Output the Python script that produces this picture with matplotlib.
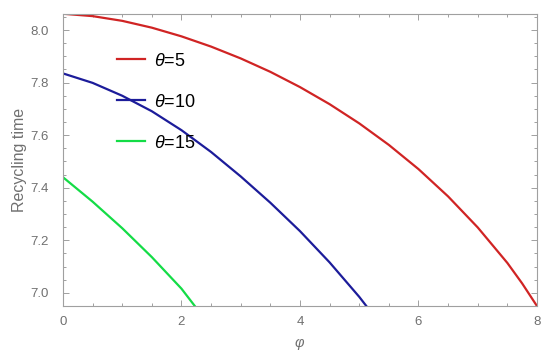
import matplotlib.pyplot as plt
from matplotlib.ticker import MultipleLocator

# --- values ---
phi_red = [0, 0.5, 1, 1.5, 2, 2.5, 3, 3.5, 4, 4.5, 5, 5.5, 6, 6.5, 7, 7.5,
           7.75, 8]
t_red = [8.062, 8.053, 8.035, 8.009, 7.976, 7.937, 7.892, 7.841, 7.783,
         7.718, 7.645, 7.563, 7.471, 7.367, 7.249, 7.114, 7.036, 6.95]

phi_blue = [0, 0.5, 1, 1.5, 2, 2.5, 3, 3.5, 4, 4.5, 5, 5.12]
t_blue = [7.835, 7.799, 7.750, 7.691, 7.619, 7.536, 7.443, 7.343, 7.235,
          7.116, 6.985, 6.95]

phi_green = [0, 0.5, 1, 1.5, 2, 2.225]
t_green = [7.44, 7.347, 7.246, 7.136, 7.016, 6.95]

labels = [r"$\theta$=5", r"$\theta$=10", r"$\theta$=15"]
colors = ["#d02424", "#1c1c9a", "#14dc46"]

plt.rcParams["font.family"] = "Liberation Sans"
plt.rcParams["mathtext.fontset"] = "custom"
plt.rcParams["mathtext.it"] = "Liberation Sans:italic"

fig = plt.figure(figsize=(5.5, 3.64), dpi=100)
ax = fig.add_axes([0.1145, 0.1593, 0.8618, 0.8022])

for xs, ys, lab, c in zip([phi_red, phi_blue, phi_green],
                          [t_red, t_blue, t_green], labels, colors):
    ax.plot(xs, ys, color=c, lw=1.6, label=lab, solid_joinstyle="round")

ax.set_xlim(0, 8)
ax.set_ylim(6.95, 8.061)

gray = "#a0a0a0"
txt = "#707070"
ax.xaxis.set_major_locator(MultipleLocator(2))
ax.xaxis.set_minor_locator(MultipleLocator(0.5))
ax.yaxis.set_major_locator(MultipleLocator(0.2))
ax.yaxis.set_minor_locator(MultipleLocator(0.05))
ax.yaxis.set_major_formatter(plt.FuncFormatter(lambda v, p: f"{v:.1f}"))
ax.tick_params(which="both", direction="in", top=True, right=True,
               color=gray, width=0.7, labelcolor=txt, labelsize=9.5)
ax.tick_params(which="major", length=4.5, pad=7)
ax.tick_params(axis="y", which="major", pad=10)
ax.tick_params(which="minor", length=2.5)
for s in ax.spines.values():
    s.set_color(gray)
    s.set_linewidth(0.8)

ax.set_xlabel(r"$\varphi$", color=txt, fontsize=10.5, labelpad=6)
ax.set_ylabel("Recycling time", color=txt, fontsize=11.5, labelpad=3)

ax.legend(loc="upper left", bbox_to_anchor=(0.115, 0.868), frameon=False,
          fontsize=13, handlelength=1.55, handletextpad=0.5,
          labelspacing=1.33, borderpad=0, borderaxespad=0)

fig.savefig("out.png", dpi=100)
